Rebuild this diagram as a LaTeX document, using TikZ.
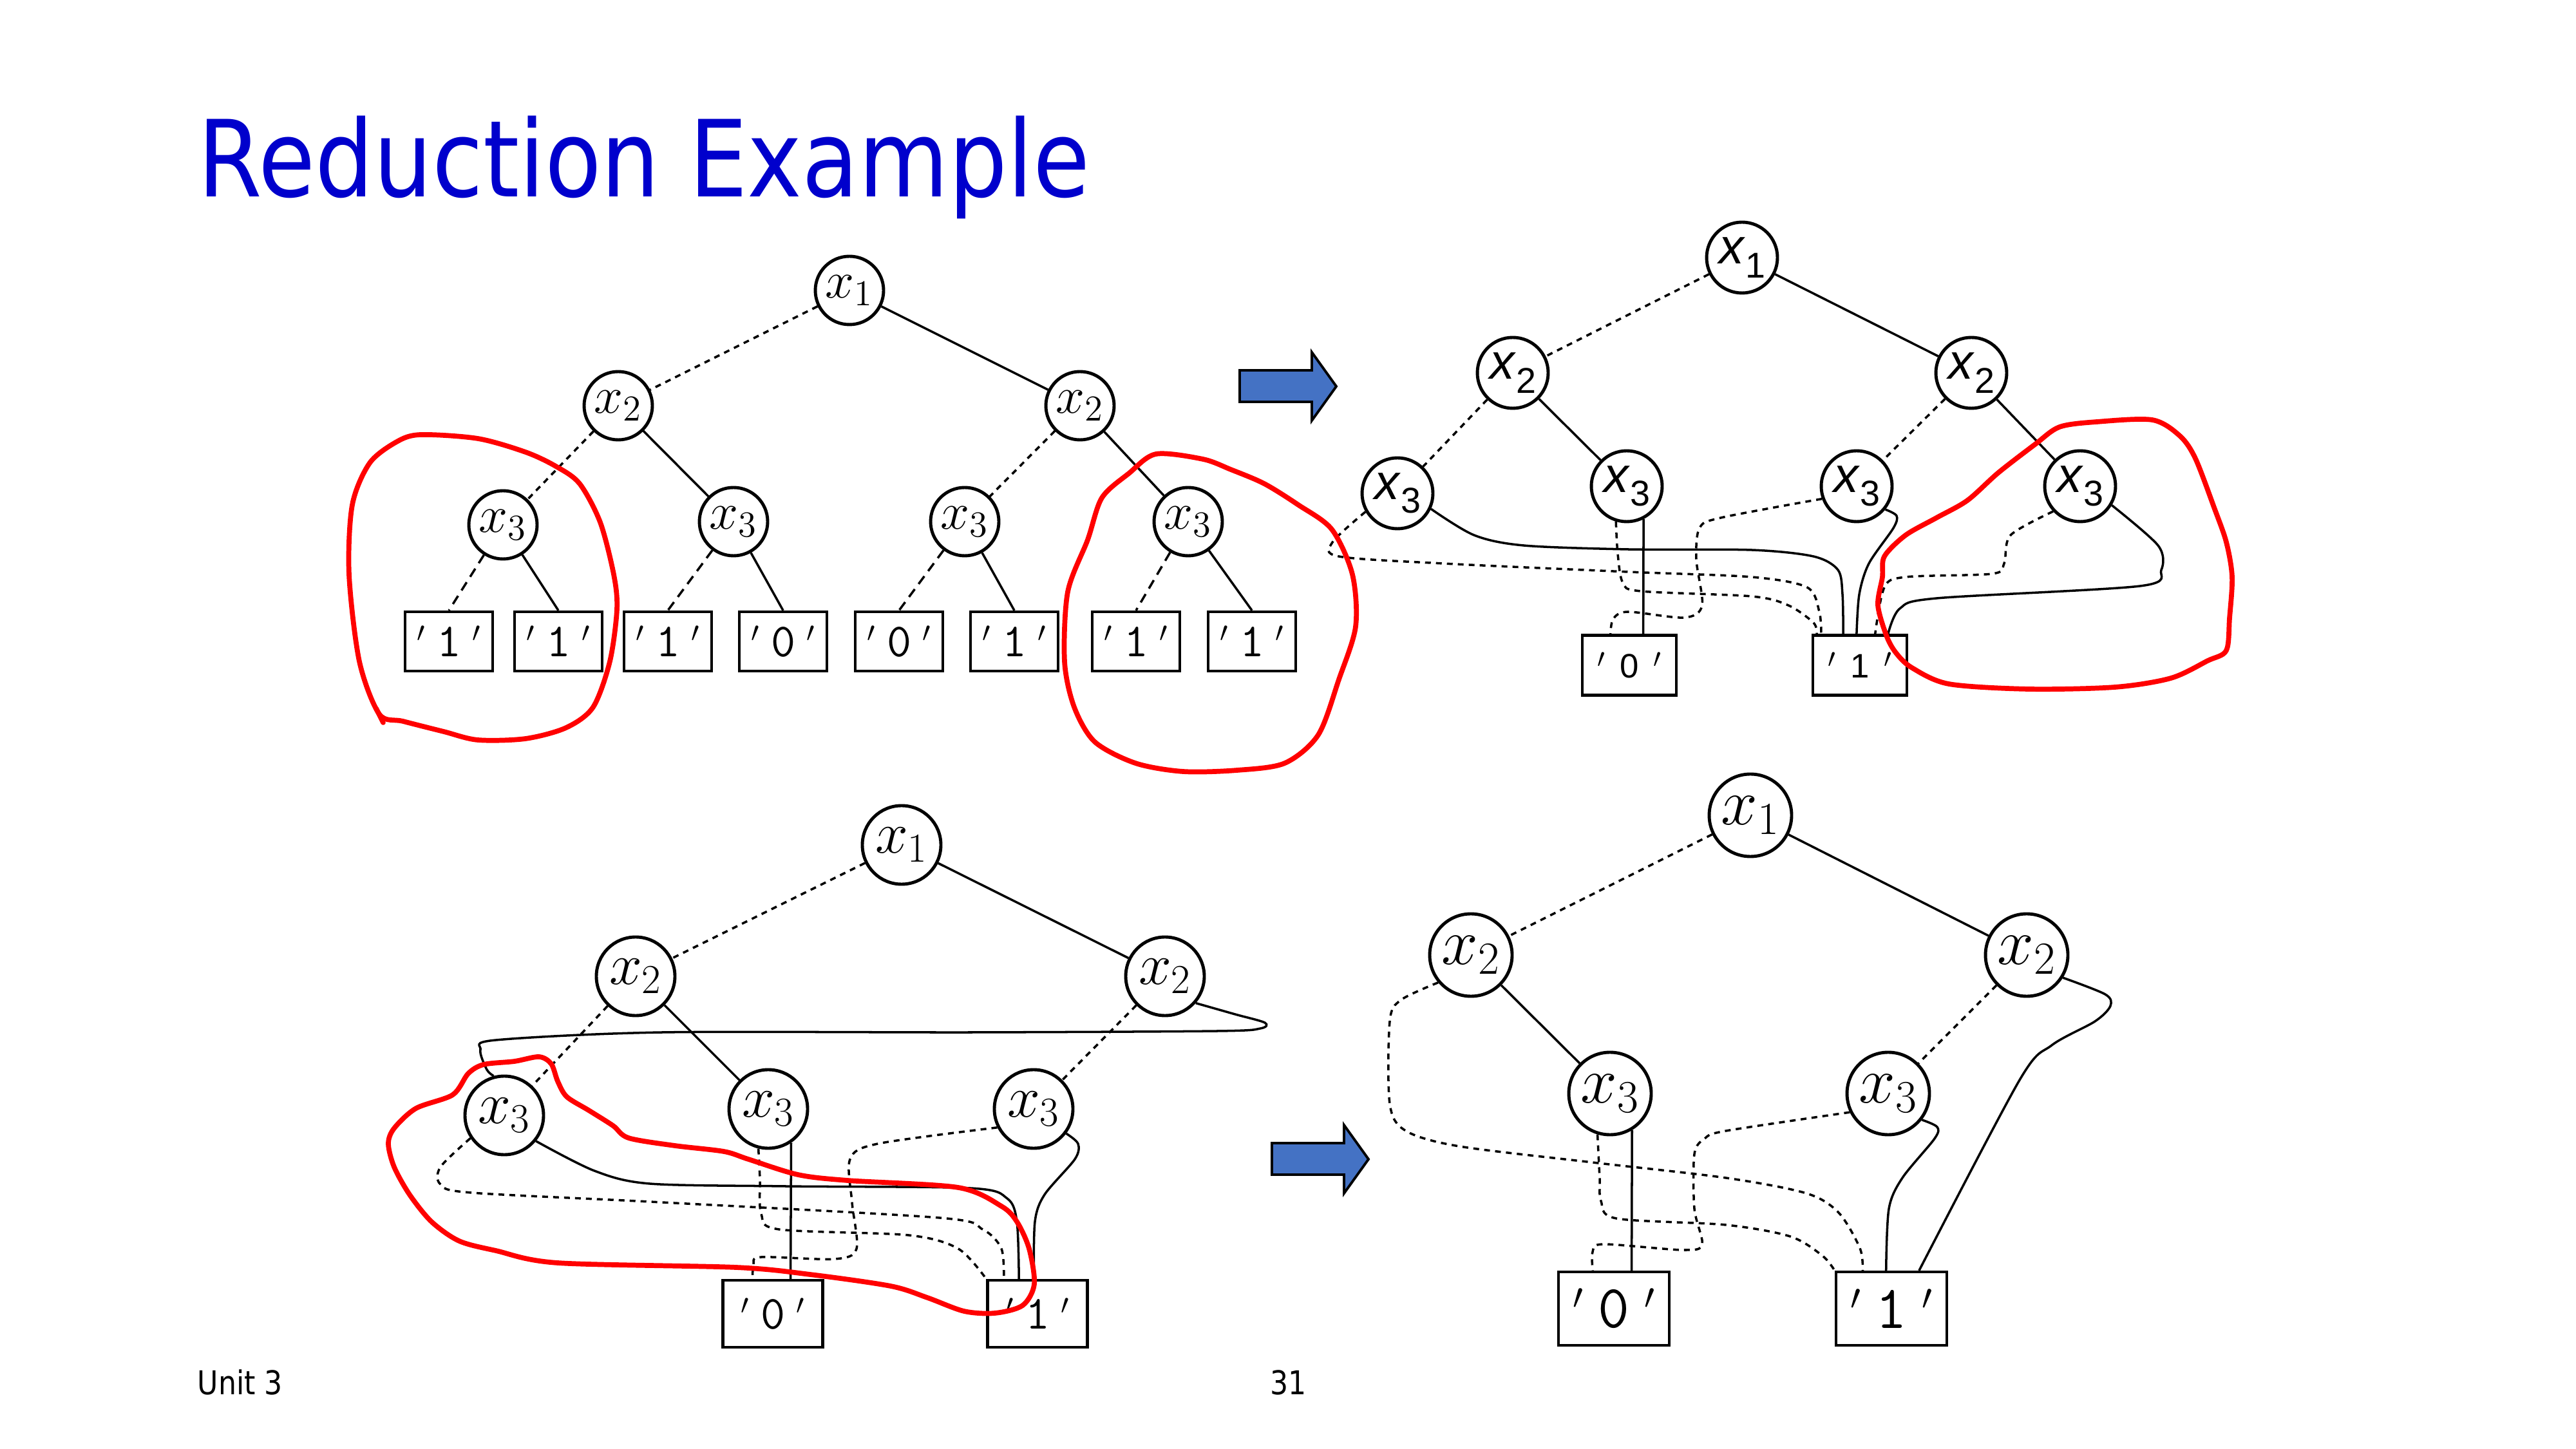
\RequirePackage{fix-cm}
\documentclass[tikz,border=0pt]{standalone}
\usepackage{fontspec}
\newfontfamily\titlefont[FakeStretch=0.868]{DejaVu Sans}
\newfontfamily\hvfont{Liberation Sans}
\definecolor{titleblue}{RGB}{0,0,204}
\definecolor{arrowblue}{RGB}{68,114,196}
\newcommand{\tick}[2]{\raisebox{#1}{\scalebox{#2}{$\prime$}}}
\newcommand{\leafval}[1]{\makebox[0.65em]{\tick{0.31em}{0.6}}\texttt{#1}\makebox[0.65em]{\tick{0.31em}{0.6}}}
\newcommand{\leafsans}[1]{\makebox[1.1em]{\tick{0.3em}{0.8}}#1\makebox[1.1em]{\tick{0.3em}{0.8}}}
\newcommand{\sansvar}[1]{\textit{x}\raisebox{-0.28em}{\scalebox{0.72}{#1}}}
\tikzset{
  var/.style={circle, draw, line width=1.4pt, inner sep=0pt, minimum size=1.06cm},
  leaf/.style={rectangle, draw, line width=1.2pt, inner sep=0pt, minimum width=1.36cm, minimum height=0.92cm},
  highedge/.style={line width=1pt},
  lowedge/.style={line width=1pt, dash pattern=on 0.09cm off 0.08cm},
  longedge/.style={line width=1pt, dash pattern=on 0.15cm off 0.1cm},
  redloop/.style={draw=red, line width=2.2pt, line join=round, line cap=round},
  bluearrow/.style={fill=arrowblue, draw=black, line width=1.1pt}
}

\begin{document}
\begin{tikzpicture}[x=1cm,y=-1cm]
\useasboundingbox (0,0) rectangle (40,22.5);
%% title and footer
\node[anchor=base west, inner sep=0pt, text=titleblue, font=\titlefont\fontsize{47}{47}\selectfont] (title) at (3.07,3.06) {Reduction Example};
\node[anchor=base west, inner sep=0pt, font=\titlefont\fontsize{14.5}{14.5}\selectfont] (unit) at (3.06,21.65) {Unit 3};
\node[anchor=base west, inner sep=0pt, font=\titlefont\fontsize{14.5}{14.5}\selectfont] (page) at (19.72,21.65) {31};

%%%%%% top left: full tree
\begin{scope}[var/.append style={font=\fontsize{23}{23}\selectfont}, leaf/.append style={font=\fontsize{21}{21}\selectfont}]
%% vertices
\node[var] (A1) at (13.19,4.51) {$x_1$};
\node[var] (A2l) at (9.60,6.30) {$x_2$};
\node[var] (A2r) at (16.77,6.30) {$x_2$};
\node[var] (A3a) at (7.81,8.15) {$x_3$};
\node[var] (A3b) at (11.39,8.10) {$x_3$};
\node[var] (A3c) at (14.98,8.10) {$x_3$};
\node[var] (A3d) at (18.45,8.10) {$x_3$};
%% leaves
\foreach \xx/\vv [count=\i] in {6.97/1,8.67/1,10.37/1,12.16/0,13.96/0,15.75/1,17.64/1,19.44/1}
  \node[leaf] (Aq\i) at (\xx,9.96) {\leafval{\vv}};
%%% edges
\draw[lowedge] (A1) -- (A2l);
\draw[highedge] (A1) -- (A2r);
\draw[lowedge] (A2l) -- (A3a);
\draw[highedge] (A2l) -- (A3b);
\draw[lowedge] (A2r) -- (A3c);
\draw[highedge] (A2r) -- (A3d);
\draw[longedge] (A3a) -- (Aq1.north);
\draw[highedge] (A3a) -- (Aq2.north);
\draw[longedge] (A3b) -- (Aq3.north);
\draw[highedge] (A3b) -- (Aq4.north);
\draw[longedge] (A3c) -- (Aq5.north);
\draw[highedge] (A3c) -- (Aq6.north);
\draw[longedge] (A3d) -- (Aq7.north);
\draw[highedge] (A3d) -- (Aq8.north);
\end{scope}

%%%%%% top right: leaves merged
\begin{scope}[var/.append style={minimum size=1.10cm, font=\hvfont\fontsize{22}{22}\selectfont}, leaf/.append style={minimum width=1.34cm, minimum height=0.93cm, font=\hvfont\fontsize{15}{15}\selectfont}]
%% vertices
\node[var] (B1) at (27.05,4.00) {\sansvar{1}};
\node[var] (B2l) at (23.49,5.79) {\sansvar{2}};
\node[var] (B2r) at (30.61,5.79) {\sansvar{2}};
\node[var] (B3a) at (21.70,7.66) {\sansvar{3}};
\node[var] (B3b) at (25.26,7.55) {\sansvar{3}};
\node[var] (B3c) at (28.83,7.55) {\sansvar{3}};
\node[var] (B3d) at (32.30,7.55) {\sansvar{3}};
\node[leaf] (Bzero) at (25.30,10.33) {\leafsans{0}};
\node[leaf] (Bone) at (28.88,10.33) {\leafsans{1}};
%%% edges
\draw[lowedge] (B1) -- (B2l);
\draw[highedge] (B1) -- (B2r);
\draw[lowedge] (B2l) -- (B3a);
\draw[highedge] (B2l) -- (B3b);
\draw[lowedge] (B2r) -- (B3c);
\draw[highedge] (B2r) -- (B3d);
\draw[highedge] plot[smooth] coordinates {(B3a.-25) (22.89,8.31) (23.66,8.47) (25.28,8.53) (27.20,8.54) (28.16,8.64) (28.54,8.85) (28.61,9.23) (Bone.118)};
\draw[lowedge] plot[smooth] coordinates {(B3a.-150) (20.69,8.42) (20.79,8.64) (22.41,8.75) (25.28,8.88) (27.20,8.96) (28.06,9.12) (28.25,9.50) (Bone.141)};
\draw[highedge] (B3b.-63) -- (Bzero.66);
\draw[lowedge] plot[smooth] coordinates {(B3b.-107) (25.12,8.60) (25.20,9.05) (25.48,9.18) (27.20,9.26) (27.77,9.40) (28.16,9.67) (Bone.144)};
\draw[lowedge] plot[smooth] coordinates {(B3c.-160) (26.72,8.04) (26.39,8.20) (26.34,8.69) (26.43,9.40) (26.15,9.59) (25.28,9.50) (25.05,9.61) (Bzero.121)};
\draw[highedge] plot[smooth] coordinates {(B3c.-39) (29.45,8.01) (29.40,8.20) (29.02,8.75) (28.87,9.23) (Bone.96)};
\draw[lowedge] plot[smooth] coordinates {(B3d.-137) (31.22,8.31) (31.12,8.75) (30.93,8.91) (29.59,8.96) (29.26,9.12) (Bone.64)};
\draw[highedge] plot[smooth] coordinates {(B3d.-31) (33.51,8.47) (33.56,8.85) (33.23,9.10) (30.07,9.29) (29.50,9.45) (Bone.48)};
\end{scope}

%%%%%% bottom left: one x3 removed
\begin{scope}[var/.append style={minimum size=1.22cm, font=\fontsize{26}{26}\selectfont}, leaf/.append style={minimum width=1.55cm, minimum height=1.04cm, font=\fontsize{21}{21}\selectfont}]
%% vertices
\node[var] (C1) at (14.00,13.12) {$x_1$};
\node[var] (C2l) at (9.87,15.16) {$x_2$};
\node[var] (C2r) at (18.09,15.16) {$x_2$};
\node[var] (C3a) at (7.83,17.32) {$x_3$};
\node[var] (C3b) at (11.93,17.22) {$x_3$};
\node[var] (C3c) at (16.05,17.22) {$x_3$};
\node[leaf] (Czero) at (12.00,20.40) {\leafval{0}};
\node[leaf] (Cone) at (16.11,20.40) {\leafval{1}};
%%% edges
\draw[lowedge] (C1) -- (C2l);
\draw[highedge] (C1) -- (C2r);
\draw[lowedge] (C2l) -- (C3a);
\draw[highedge] (C2l) -- (C3b);
\draw[lowedge] (C2r) -- (C3c);
\draw[highedge] plot[smooth] coordinates {(C2r.-41) (19.18,15.75) (19.64,15.88) (19.57,15.97) (18.90,16.01) (15.07,16.03) (10.28,16.03) (7.70,16.15) (7.46,16.30) (7.56,16.61) (C3a.105)};
\draw[highedge] plot[smooth] coordinates {(C3a.-39) (9.23,18.18) (10.09,18.38) (12.20,18.42) (15.07,18.45) (15.64,18.61) (15.79,18.97) (Cone.118)};
\draw[lowedge] plot[smooth] coordinates {(C3a.-146) (6.84,18.12) (6.84,18.39) (7.32,18.52) (10.28,18.67) (14.59,18.91) (15.26,19.09) (15.55,19.39) (Cone.134)};
\draw[highedge] (C3b.-56) -- (Czero.63);
\draw[lowedge] plot[smooth] coordinates {(C3b.-104) (11.80,18.30) (11.82,18.85) (12.10,19.09) (14.11,19.18) (14.88,19.39) (Cone.north west)};
\draw[lowedge] plot[smooth] coordinates {(C3c.-153) (13.63,17.76) (13.20,18.00) (13.23,18.67) (13.30,19.39) (12.96,19.55) (11.82,19.52) (11.70,19.64) (Czero.120)};
\draw[highedge] plot[smooth] coordinates {(C3c.-37) (16.74,17.76) (16.69,18.00) (16.22,18.55) (16.07,18.97) (Cone.96)};
\end{scope}

%%%%%% bottom right: reduced
\begin{scope}[var/.append style={minimum size=1.28cm, font=\fontsize{29}{29}\selectfont}, leaf/.append style={minimum width=1.62cm, minimum height=1.14cm, font=\fontsize{27}{27}\selectfont}]
%% vertices
\node[var] (D1) at (27.18,12.66) {$x_1$};
\node[var] (D2l) at (22.84,14.83) {$x_2$};
\node[var] (D2r) at (31.47,14.83) {$x_2$};
\node[var] (D3b) at (25.00,16.98) {$x_3$};
\node[var] (D3c) at (29.32,16.98) {$x_3$};
\node[leaf] (Dzero) at (25.06,20.32) {\leafval{0}};
\node[leaf] (Done) at (29.37,20.32) {\leafval{1}};
%%% edges
\draw[lowedge] (D1) -- (D2l);
\draw[highedge] (D1) -- (D2r);
\draw[highedge] (D2l) -- (D3b);
\draw[lowedge] (D2r) -- (D3c);
\draw[lowedge] plot[smooth] coordinates {(D2l.-140) (21.75,15.53) (21.58,15.86) (21.58,17.14) (21.83,17.56) (22.66,17.80) (24.73,18.05) (26.80,18.29) (28.05,18.53) (28.55,18.83) (28.88,19.38) (Done.127)};
\draw[highedge] plot[smooth] coordinates {(D2r.-32) (32.69,15.44) (32.77,15.62) (32.53,15.86) (31.86,16.23) (31.36,16.77) (Done.54)};
\draw[highedge] (D3b.-59) -- (Dzero.65);
\draw[lowedge] plot[smooth] coordinates {(D3b.-107) (24.84,18.30) (24.86,18.65) (25.10,18.92) (26.80,19.02) (27.80,19.20) (28.30,19.50) (Done.north west)};
\draw[lowedge] plot[smooth] coordinates {(D3c.-154) (26.80,17.56) (26.47,17.68) (26.31,17.92) (26.31,18.77) (26.43,19.32) (26.14,19.41) (24.90,19.32) (24.73,19.44) (Dzero.119)};
\draw[highedge] plot[smooth] coordinates {(D3c.-38) (30.08,17.50) (30.04,17.68) (29.54,18.29) (29.33,18.77) (Done.98)};
\end{scope}

%% arrows
\draw[bluearrow] (19.25,5.75) -- (20.37,5.75) -- (20.37,5.47) -- (20.75,6.00) -- (20.37,6.53) -- (20.37,6.24) -- (19.25,6.24) -- cycle;
\draw[bluearrow] (19.75,17.75) -- (20.87,17.75) -- (20.87,17.47) -- (21.25,18.00) -- (20.87,18.53) -- (20.87,18.24) -- (19.75,18.24) -- cycle;

%% red marks
\draw[redloop] plot[smooth cycle] coordinates {(5.89,11.09) (5.58,10.27) (5.42,8.92) (5.47,7.84) (5.74,7.19) (6.16,6.86) (6.53,6.75) (7.42,6.81) (8.16,7.02) (8.63,7.24) (9.00,7.51) (9.32,8.11) (9.53,8.92) (9.58,9.46) (9.47,10.27) (9.21,10.98) (8.79,11.30) (8.16,11.47) (7.42,11.49) (6.89,11.36) (6.26,11.20)};
\draw[redloop] (5.84,11.00) -- (5.95,11.22);
\draw[redloop] plot[smooth cycle] coordinates {(17.11,7.73) (17.53,7.35) (17.95,7.05) (18.68,7.13) (19.11,7.29) (19.63,7.51) (20.16,7.84) (20.68,8.22) (21.00,8.92) (21.05,9.73) (20.79,10.55) (20.47,11.41) (19.95,11.85) (19.21,11.96) (18.37,11.98) (17.63,11.85) (17.00,11.52) (16.68,10.98) (16.53,10.27) (16.58,9.19) (16.89,8.38)};
\draw[redloop] plot[smooth cycle] coordinates {(29.26,8.64) (29.59,8.31) (30.07,8.04) (30.55,7.77) (31.03,7.34) (31.60,6.90) (31.98,6.63) (32.56,6.55) (33.42,6.52) (33.85,6.77) (34.09,7.12) (34.38,7.88) (34.57,8.42) (34.66,8.96) (34.62,9.60) (34.57,10.10) (34.28,10.26) (33.71,10.53) (32.84,10.67) (31.50,10.70) (30.26,10.62) (29.69,10.37) (29.45,10.15) (29.30,9.89) (29.16,9.40) (29.23,8.96)};
\draw[redloop] plot[smooth cycle] coordinates {(7.27,16.67) (7.51,16.53) (7.99,16.48) (8.37,16.41) (8.56,16.52) (8.66,16.79) (8.80,17.03) (9.14,17.24) (9.52,17.48) (9.76,17.67) (10.48,17.79) (11.24,17.88) (11.62,18.00) (12.39,18.24) (13.16,18.33) (14.88,18.44) (15.55,18.73) (15.79,18.97) (15.98,19.39) (16.06,19.94) (15.88,20.27) (15.45,20.39) (14.97,20.36) (14.40,20.15) (13.83,19.97) (12.58,19.79) (11.43,19.68) (8.66,19.61) (7.70,19.42) (7.13,19.27) (6.70,18.97) (6.36,18.55) (6.12,18.12) (6.03,17.76) (6.12,17.52) (6.46,17.21) (7.03,17.00)};
\end{tikzpicture}
\end{document}
